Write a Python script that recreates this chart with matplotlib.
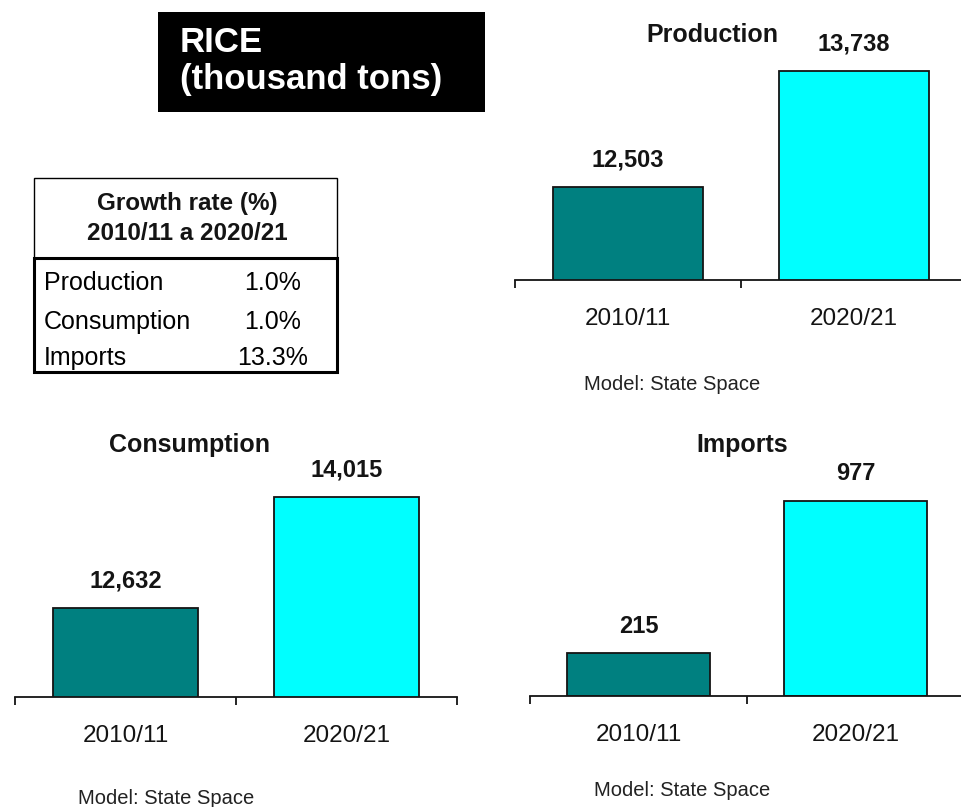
import matplotlib
matplotlib.use("Agg")
import matplotlib.pyplot as plt
from matplotlib.patches import Rectangle

W, H = 962, 807

periods = ["2010/11", "2020/21"]
production = [12503, 13738]
consumption = [12632, 14015]
imports = [215, 977]

growth_items = ["Production", "Consumption", "Imports"]
growth_rates = ["1.0%", "1.0%", "13.3%"]

bar_colors = ["#008080", "#00FFFF"]
ink = "#141414"

plt.rcParams['font.family'] = ['Liberation Sans', 'DejaVu Sans']

fig = plt.figure(figsize=(W / 100, H / 100), dpi=100)


def fx(x):
    return x / W


def fy(y):
    return 1 - y / H


def bar_panel(values, left, right, axis_y, top_y, ybase, px_per_unit):
    ax = fig.add_axes([fx(left), fy(axis_y), (right - left) / W, (axis_y - top_y) / H])
    ax.bar(range(len(values)), values, width=0.66, color=bar_colors,
           edgecolor=ink, linewidth=1.3, zorder=2)
    ax.set_xlim(-0.5, 1.5)
    ax.set_ylim(ybase, ybase + (axis_y - top_y) / px_per_unit)
    for s in ["top", "left", "right"]:
        ax.spines[s].set_visible(False)
    ax.spines["bottom"].set_linewidth(1.3)
    ax.spines["bottom"].set_color(ink)
    ax.spines["bottom"].set_zorder(3)
    ax.set_yticks([])
    ax.set_xticks([-0.5, 0.5, 1.5])
    ax.set_xticklabels([])
    ax.tick_params(axis="x", which="major", direction="out", length=6, width=1.3, color=ink)
    ax.set_xticks([0, 1], minor=True)
    ax.set_xticklabels(periods, minor=True, fontsize=17.5, color=ink)
    ax.tick_params(axis="x", which="minor", length=0, pad=20)
    for i, v in enumerate(values):
        ax.annotate(f"{v:,}", xy=(i, v), xytext=(0, 27 * 0.72), textcoords="offset points",
                    ha="center", va="center", fontsize=17, fontweight="bold", color=ink,
                    annotation_clip=False)
    return ax


bar_panel(production, 515, 967, 280, 20, 11513, 0.0939)
bar_panel(consumption, 15, 457, 697, 430, 11524, 0.0803)
bar_panel(imports, 530, 964, 696, 430, 0, 0.1996)

# panel titles and notes
fig.text(fx(712), fy(35), "Production", ha="center", va="center", fontsize=18, fontweight="bold", color=ink)
fig.text(fx(189), fy(445), "Consumption", ha="center", va="center", fontsize=18, fontweight="bold", color=ink)
fig.text(fx(742), fy(445), "Imports", ha="center", va="center", fontsize=18, fontweight="bold", color=ink)

fig.text(fx(672), fy(385), "Model: State Space", ha="center", va="center", fontsize=14.5, color="#222222")
fig.text(fx(166), fy(798), "Model: State Space", ha="center", va="center", fontsize=14.5, color="#222222")
fig.text(fx(682), fy(790), "Model: State Space", ha="center", va="center", fontsize=14.5, color="#222222")

# black title box
fig.patches.append(Rectangle((fx(158), fy(112)), (485 - 158) / W, 100 / H,
                             transform=fig.transFigure, facecolor="black", edgecolor="none"))
fig.text(fx(180), fy(43), "RICE", ha="left", va="center", fontsize=25, fontweight="bold", color="white")
fig.text(fx(180), fy(80), "(thousand tons)", ha="left", va="center", fontsize=25, fontweight="bold", color="white")

# growth rate table
fig.patches.append(Rectangle((fx(34), fy(258)), (337 - 34) / W, (258 - 178) / H,
                             transform=fig.transFigure, fill=False, edgecolor="black", linewidth=1))
fig.patches.append(Rectangle((fx(34), fy(372)), (337 - 34) / W, (372 - 258) / H,
                             transform=fig.transFigure, fill=False, edgecolor="black", linewidth=2.2))
fig.text(fx(187), fy(204), "Growth rate (%)", ha="center", va="center", fontsize=17.5, fontweight="bold", color=ink)
fig.text(fx(187), fy(234), "2010/11 a 2020/21", ha="center", va="center", fontsize=17.5, fontweight="bold", color=ink)

row_y = [283, 322, 358]
for name, rate, y in zip(growth_items, growth_rates, row_y):
    fig.text(fx(44), fy(y), name, ha="left", va="center", fontsize=18, color="black")
    fig.text(fx(273), fy(y), rate, ha="center", va="center", fontsize=18, color="black")

fig.savefig("out.png", dpi=100)
